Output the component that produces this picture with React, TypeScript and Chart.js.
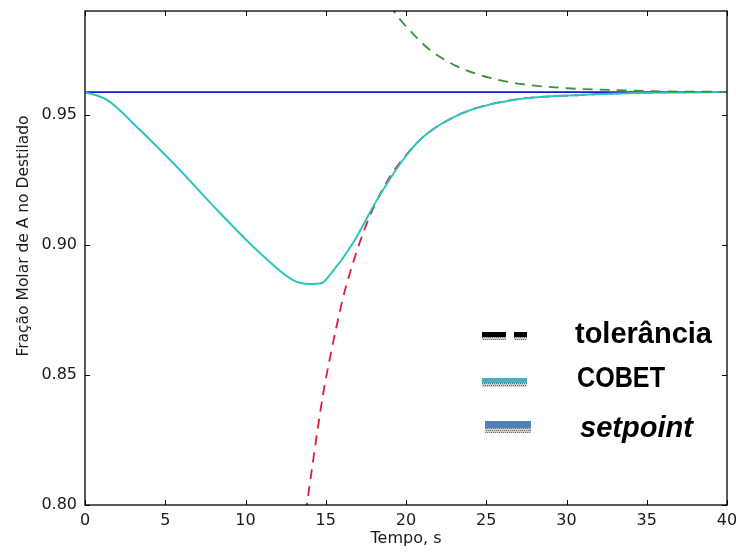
import React, { useEffect, useRef } from "react";
import { Chart, registerables } from "chart.js";

Chart.register(...registerables);

// ---- data ----
const setpointT = [0, 40];
const setpointY = [0.9588, 0.9588];

const cobetT = [0, 1.37, 3.43, 5.73, 8.41, 10.9, 12.96, 14.02, 14.77, 15.26, 16.7, 18.19, 19.81, 21.06, 23.55, 26.67, 30.84, 35, 40];
const cobetY = [0.9588, 0.9558, 0.9442, 0.93, 0.9123, 0.8969, 0.8865, 0.885, 0.8854, 0.8885, 0.9008, 0.9173, 0.9327, 0.9415, 0.9508, 0.9558, 0.9577, 0.9586, 0.9588];

const lowerTolT = [13.75, 13.9, 14.83, 15.26, 16.07, 16.51, 17.13, 17.94, 19.0, 20.0, 21.06, 23.55, 26.67, 30.84, 35, 40];
const lowerTolY = [0.797, 0.8035, 0.8425, 0.8565, 0.8795, 0.8893, 0.9012, 0.9139, 0.9263, 0.9345, 0.9415, 0.9508, 0.9558, 0.9577, 0.9586, 0.9588];

const upperTolT = [19.0, 19.19, 20.44, 21.5, 23.18, 24.61, 26.67, 29.78, 32.9, 36, 40];
const upperTolY = [0.9925, 0.9904, 0.9812, 0.975, 0.9687, 0.9654, 0.9624, 0.9604, 0.9596, 0.9591, 0.9589];

const xTicks = [0, 5, 10, 15, 20, 25, 30, 35, 40];
const yTicks = [0.8, 0.85, 0.9, 0.95];

const xTitle = "Tempo, s";
const yTitle = "Fração Molar de A no Destilado";
const legendLabels = ["tolerância", "COBET", "setpoint"];

const toPts = (t: number[], v: number[]) => t.map((x, i) => ({ x, y: v[i] }));

function hatch(ctx: CanvasRenderingContext2D, x: number, y: number, w: number, h: number) {
  ctx.fillStyle = "#d0d0d0";
  ctx.fillRect(x, y, w, h);
  ctx.fillStyle = "#6a6a6a";
  for (let yy = y; yy < y + h; yy += 2) {
    const off = ((yy - y) / 2) % 2 === 0 ? 0 : 1;
    for (let xx = x + off; xx < x + w; xx += 2) ctx.fillRect(xx, yy, 1, 1);
  }
}

function fitText(ctx: CanvasRenderingContext2D, text: string, font: string, x: number, base: number, target: number) {
  ctx.font = font;
  const w = ctx.measureText(text).width;
  ctx.save();
  ctx.translate(x, base);
  ctx.scale(target / w, 1);
  ctx.textAlign = "left";
  ctx.textBaseline = "alphabetic";
  ctx.fillText(text, 0, 0);
  ctx.restore();
}

const overlay = {
  id: "overlay",
  afterDraw(chart: any) {
    const { ctx, chartArea: a, scales } = chart;
    const xs = scales.x;
    const ys = scales.y;
    ctx.save();
    // frame
    ctx.strokeStyle = "#000";
    ctx.lineWidth = 1.3;
    ctx.strokeRect(a.left, a.top, a.right - a.left, a.bottom - a.top);
    // inward ticks on all four sides
    ctx.beginPath();
    ctx.lineWidth = 1;
    for (const t of xTicks) {
      const px = Math.round(xs.getPixelForValue(t)) + 0.5;
      ctx.moveTo(px, a.bottom);
      ctx.lineTo(px, a.bottom - 5);
      ctx.moveTo(px, a.top);
      ctx.lineTo(px, a.top + 5);
    }
    for (const t of yTicks) {
      const py = Math.round(ys.getPixelForValue(t)) + 0.5;
      ctx.moveTo(a.left, py);
      ctx.lineTo(a.left + 5, py);
      ctx.moveTo(a.right, py);
      ctx.lineTo(a.right - 5, py);
    }
    ctx.stroke();

    // axis titles
    ctx.fillStyle = "#1a1a1a";
    ctx.font = '16px "DejaVu Sans"';
    ctx.textAlign = "center";
    ctx.textBaseline = "alphabetic";
    ctx.fillText(xTitle, (a.left + a.right) / 2, 543);
    ctx.save();
    ctx.translate(28, 236);
    ctx.rotate(-Math.PI / 2);
    ctx.font = '15.5px "DejaVu Sans"';
    ctx.fillText(yTitle, 0, 0);
    ctx.restore();

    // legend
    ctx.fillStyle = "#000";
    ctx.fillRect(482, 332, 24, 5);
    ctx.fillRect(514, 332, 13, 5);
    hatch(ctx, 482, 337, 24, 3);
    hatch(ctx, 514, 337, 13, 3);
    ctx.fillStyle = "#4bacc6";
    ctx.fillRect(482, 378, 45, 5);
    hatch(ctx, 482, 383, 45, 4);
    ctx.fillStyle = "#4f81bd";
    ctx.fillRect(485, 421, 46, 7);
    hatch(ctx, 485, 428, 46, 5);

    ctx.fillStyle = "#000";
    fitText(ctx, legendLabels[0], 'bold 29px "Liberation Sans"', 575, 343, 137);
    fitText(ctx, legendLabels[1], 'bold 29px "Liberation Sans"', 577, 387, 88);
    fitText(ctx, legendLabels[2], 'italic bold 29px "Liberation Sans"', 580, 437, 113);
    ctx.restore();
  },
};

export default function App() {
  const ref = useRef<HTMLCanvasElement | null>(null);
  useEffect(() => {
    if (!ref.current) return;
    const chart = new Chart(ref.current, {
      type: "line",
      data: {
        datasets: [
          {
            label: "upper",
            data: toPts(upperTolT, upperTolY),
            borderColor: "#3d8f3d",
            borderWidth: 1.8,
            borderDash: [10, 7],
            pointRadius: 0,
            cubicInterpolationMode: "monotone",
            fill: false,
          },
          {
            label: "COBET",
            data: toPts(cobetT, cobetY),
            borderColor: "#2cc5bd",
            borderWidth: 2,
            pointRadius: 0,
            cubicInterpolationMode: "monotone",
            fill: false,
          },
          {
            label: "lower",
            data: toPts(lowerTolT, lowerTolY),
            borderColor: "#e6193c",
            borderWidth: 1.8,
            borderDash: [10, 7],
            pointRadius: 0,
            cubicInterpolationMode: "monotone",
            fill: false,
          },
          {
            label: "setpoint",
            data: toPts(setpointT, setpointY),
            borderColor: "#1a1ae6",
            borderWidth: 1.6,
            pointRadius: 0,
            fill: false,
          },
        ],
      },
      options: {
        animation: false,
        responsive: false,
        layout: { padding: { left: 0, top: 11, right: 9, bottom: 0 } },
        plugins: { legend: { display: false }, tooltip: { enabled: false } },
        scales: {
          x: {
            type: "linear",
            min: 0,
            max: 40,
            grid: { display: false, drawTicks: false },
            border: { display: false },
            ticks: {
              color: "#1a1a1a",
              font: { family: "DejaVu Sans", size: 16 },
              padding: 6,
              maxRotation: 0,
              autoSkip: false,
            },
            afterBuildTicks: (s: any) => {
              s.ticks = xTicks.map((v) => ({ value: v }));
            },
            afterFit: (s: any) => {
              s.height = 47;
              s.paddingLeft = 0;
              s.paddingRight = 0;
            },
          },
          y: {
            type: "linear",
            min: 0.8,
            max: 0.99,
            grid: { display: false, drawTicks: false },
            border: { display: false },
            ticks: {
              color: "#1a1a1a",
              font: { family: "DejaVu Sans", size: 16 },
              padding: 8,
              autoSkip: false,
              callback: (v: any) => Number(v).toFixed(2),
            },
            afterBuildTicks: (s: any) => {
              s.ticks = yTicks.map((v) => ({ value: v }));
            },
            afterFit: (s: any) => {
              s.width = 85;
              s.paddingTop = 0;
              s.paddingBottom = 0;
            },
          },
        },
      },
      plugins: [overlay],
    });
    return () => chart.destroy();
  }, []);
  return (
    <div style={{ position: "fixed", left: 0, top: 0, width: 736, height: 552, background: "#fff" }}>
      <canvas ref={ref} width={736} height={552} style={{ display: "block" }} />
    </div>
  );
}
